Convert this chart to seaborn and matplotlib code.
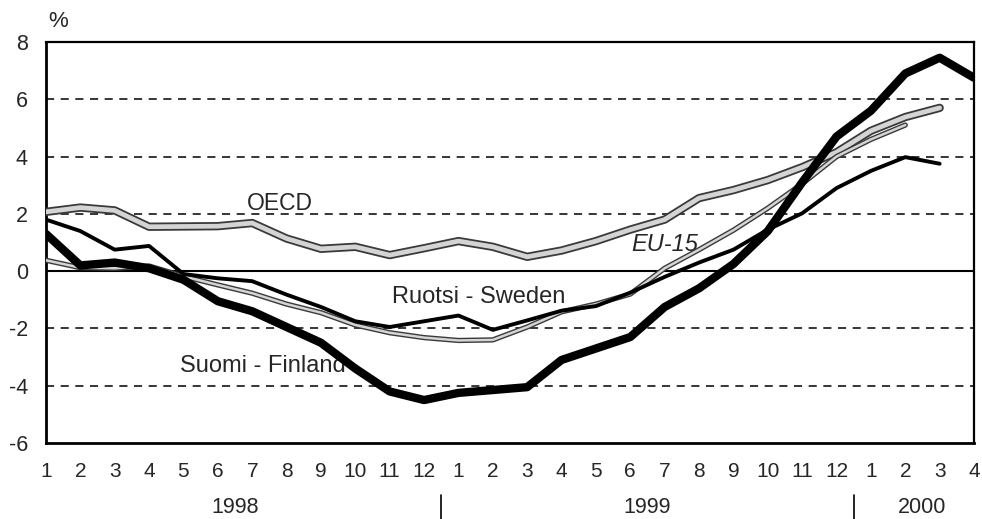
import numpy as np
import pandas as pd
import matplotlib
matplotlib.use('Agg')
import matplotlib.pyplot as plt
import matplotlib.patheffects as pe
import matplotlib.transforms as mtransforms
import seaborn as sns

# Style Setting
sns.set_style("white")
plt.rcParams['font.family'] = ['Liberation Sans', 'DejaVu Sans']

### Data ###
months = [1, 2, 3, 4, 5, 6, 7, 8, 9, 10, 11, 12,
          1, 2, 3, 4, 5, 6, 7, 8, 9, 10, 11, 12,
          1, 2, 3, 4]
years = ['1998', '1999', '2000']
year_centers = [5.5, 17.5, 25.5]
year_breaks = [11.5, 23.5]

finland = [1.3, 0.2, 0.3, 0.1, -0.3, -1.05, -1.4, -1.95, -2.5, -3.4, -4.2, -4.5,
           -4.25, -4.15, -4.05, -3.1, -2.7, -2.3, -1.25, -0.6, 0.25, 1.4, 3.1, 4.7,
           5.6, 6.9, 7.45, 6.75]
sweden = [1.8, 1.4, 0.75, 0.88, -0.1, -0.25, -0.35, -0.82, -1.25, -1.75, -1.95, -1.75,
          -1.55, -2.05, -1.72, -1.38, -1.22, -0.75, -0.2, 0.3, 0.75, 1.45, 2.02, 2.9,
          3.5, 3.98, 3.75]
oecd = [2.07, 2.22, 2.12, 1.55, 1.56, 1.57, 1.68, 1.14, 0.78, 0.85, 0.56, 0.8,
        1.05, 0.85, 0.5, 0.72, 1.05, 1.45, 1.8, 2.55, 2.83, 3.18, 3.63, 4.15,
        4.9, 5.38, 5.7]
eu15 = [0.38, 0.12, 0.1, 0.18, -0.18, -0.48, -0.77, -1.15, -1.45, -1.88, -2.15, -2.32,
        -2.42, -2.4, -1.95, -1.42, -1.15, -0.8, 0.1, 0.75, 1.43, 2.2, 3.05, 4.0,
        4.6, 5.1]


def to_frame(values):
    return pd.DataFrame({'t': np.arange(len(values)), 'value': values})


fig = plt.figure(figsize=(9.82, 5.19), dpi=100)
ax = fig.add_axes([0.0468, 0.1464, 0.9451, 0.7727])

# grid lines
for yv in [-4, -2, 2, 4, 6]:
    ax.axhline(yv, color='black', lw=1.1, ls=(0, (5.3, 4.3)), zorder=1)
ax.axhline(0, color='black', lw=1.5, zorder=1)

# series labels (under the lines)
ax.text(6.8, 2.37, 'OECD', fontsize=16.5, ha='center', va='center', zorder=2)
ax.text(18.0, 0.92, 'EU-15', fontsize=17, ha='center', va='center', style='italic', zorder=2)
ax.text(12.6, -0.9, 'Ruotsi - Sweden', fontsize=17, ha='center', va='center', zorder=2)
ax.text(6.3, -3.3, 'Suomi - Finland', fontsize=17, ha='center', va='center', zorder=2)

# gray series with dark edges
sns.lineplot(data=to_frame(oecd), x='t', y='value', ax=ax, color='#d4d4d4', lw=3.4, zorder=3,
             path_effects=[pe.Stroke(linewidth=6.0, foreground='#3a3a3a'), pe.Normal()])
sns.lineplot(data=to_frame(eu15), x='t', y='value', ax=ax, color='#d4d4d4', lw=1.8, zorder=3,
             path_effects=[pe.Stroke(linewidth=3.8, foreground='#3a3a3a'), pe.Normal()])

# black series
sns.lineplot(data=to_frame(sweden), x='t', y='value', ax=ax, color='black', lw=2.8, zorder=4)
sns.lineplot(data=to_frame(finland), x='t', y='value', ax=ax, color='black', lw=6.0, zorder=5,
             solid_capstyle='round')

# axes
ax.set_xlim(0, len(months) - 1)
ax.set_ylim(-6, 8)
ax.set_xticks(np.arange(len(months)))
ax.set_xticklabels([str(m) for m in months], fontsize=15)
ax.set_yticks(np.arange(-6, 9, 2))
ax.set_yticklabels([str(v) for v in range(-6, 9, 2)], fontsize=15.5)
ax.tick_params(axis='x', direction='out', length=11, width=1.3, pad=3, color='black')
ax.tick_params(axis='y', length=0, pad=13)
ax.set_xlabel('')
ax.set_ylabel('')
for side in ['left', 'bottom', 'top', 'right']:
    ax.spines[side].set_visible(True)
    ax.spines[side].set_color('black')
ax.spines['left'].set_linewidth(2.0)
ax.spines['bottom'].set_linewidth(2.0)
ax.spines['top'].set_linewidth(1.6)
ax.spines['right'].set_linewidth(1.6)

ax.text(0.013, 1.05, '%', transform=ax.transAxes, fontsize=16, ha='center', va='center')

# year labels and separators
trans = mtransforms.blended_transform_factory(ax.transData, ax.transAxes)
for xc, yr in zip(year_centers, years):
    ax.text(xc, -0.16, yr, transform=trans, fontsize=15.5, ha='center', va='center')
for xb in year_breaks:
    ax.plot([xb, xb], [-0.13, -0.2], transform=trans, color='black', lw=1.2, clip_on=False)

fig.savefig('out.png', dpi=100)
